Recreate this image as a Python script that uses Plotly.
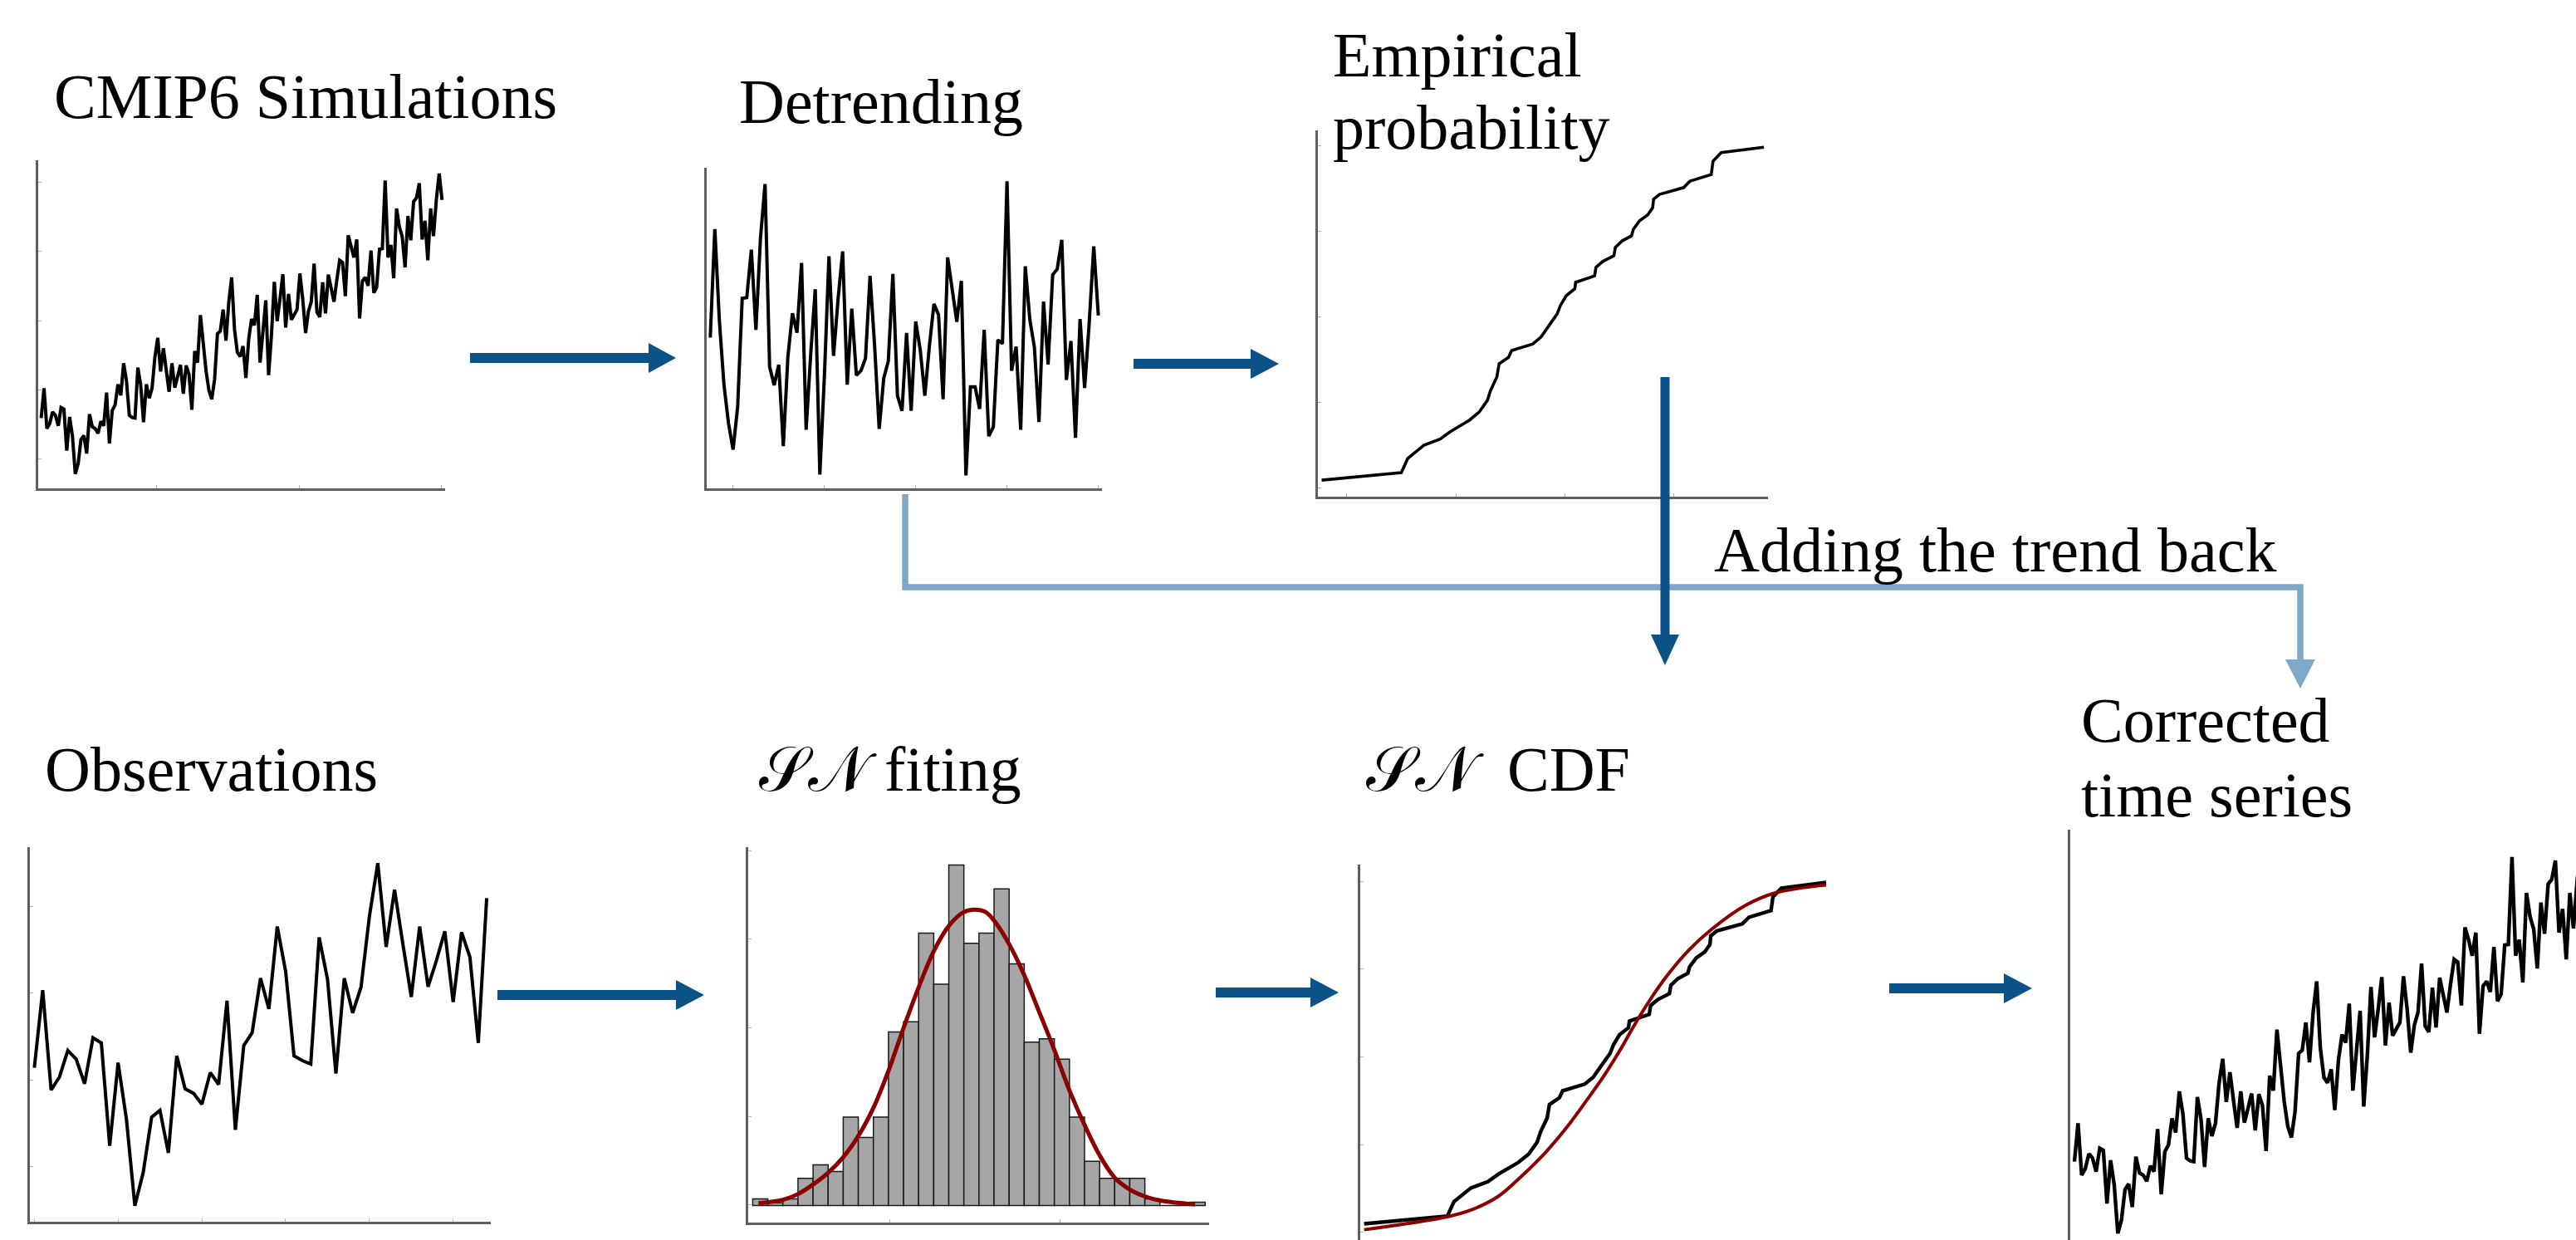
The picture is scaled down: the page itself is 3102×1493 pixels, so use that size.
import plotly.graph_objects as go

W, H = 3102, 1493

# ---------------- data ----------------
cmip6_values = [2.60, 3.68, 2.22, 2.40, 2.82, 2.70, 2.32, 2.98, 2.92, 1.42,
                2.64, 1.95, 0.58, 0.95, 1.82, 1.97, 1.32, 2.74, 2.28, 2.22,
                2.05, 2.48, 2.32, 3.52, 1.68, 2.88, 3.07, 3.82, 3.42, 4.58,
                3.94, 2.70, 2.62, 2.60, 4.42, 3.80, 2.45, 3.82, 3.32, 3.68,
                4.80, 5.50, 4.28, 5.12, 4.32, 3.55, 4.58, 3.70, 4.10, 4.52,
                3.48, 4.50, 4.18, 2.90, 5.02, 4.60, 6.32, 5.20, 4.30, 3.60,
                3.28, 4.00, 5.65, 5.74, 6.52, 5.40, 6.80, 7.68, 5.80, 4.97,
                4.82, 5.20, 4.05, 5.45, 6.18, 5.95, 7.05, 4.60, 5.80, 6.85,
                4.15, 5.60, 7.52, 6.10, 6.90, 7.80, 5.87, 7.08, 6.15, 6.32,
                6.52, 7.82, 6.90, 5.67, 6.45, 6.80, 8.18, 6.42, 6.25, 7.50,
                6.38, 7.78, 7.30, 6.80, 7.60, 8.30, 8.22, 7.00, 9.20, 8.85,
                8.40, 9.05, 6.20, 7.55, 7.68, 7.38, 8.65, 7.12, 7.32, 8.70,
                8.72, 11.18, 8.40, 8.85, 7.65, 10.17, 9.50, 9.15, 8.04, 9.90,
                9.02, 10.42, 10.55, 11.08, 9.05, 9.72, 8.30, 10.17, 9.17, 10.50,
                11.43, 10.48]

detrended_values = [5.80, 9.72, 6.40, 4.10, 2.70, 1.75, 3.30, 7.22, 7.25, 8.98,
                    6.08, 9.40, 11.35, 4.75, 4.08, 4.82, 1.88, 5.10, 6.68, 5.98,
                    8.50, 2.47, 5.20, 7.55, 0.85, 4.40, 8.74, 5.14, 7.20, 8.92,
                    4.10, 6.85, 4.44, 4.60, 5.05, 8.03, 5.50, 2.50, 4.33, 4.95,
                    8.10, 3.70, 3.15, 5.97, 3.15, 6.38, 5.35, 3.70, 5.50, 7.02,
                    6.63, 3.57, 8.70, 7.50, 6.37, 7.85, 0.82, 4.02, 4.02, 3.22,
                    6.08, 2.24, 2.57, 5.72, 5.58, 11.45, 4.60, 5.47, 2.47, 8.38,
                    6.45, 5.45, 2.75, 7.10, 4.83, 8.07, 8.28, 9.33, 4.27, 5.68,
                    2.18, 6.47, 3.98, 6.32, 9.10, 6.60]

obs_values = [4.37, 6.65, 3.72, 4.10, 4.88, 4.62, 3.90, 5.25, 5.10, 2.08,
              4.52, 2.85, 0.32, 1.30, 2.92, 3.12, 1.87, 4.72, 3.75, 3.62,
              3.30, 4.23, 3.88, 6.34, 2.55, 5.02, 5.40, 7.00, 6.10, 8.52,
              7.20, 4.72, 4.58, 4.48, 8.20, 6.97, 4.20, 7.00, 5.98, 6.74,
              8.82, 10.38, 7.92, 9.60, 8.00, 6.45, 8.52, 6.75, 7.52, 8.38,
              6.30, 8.35, 7.62, 5.10, 9.35]

hist_bins = list(range(30))
hist_counts = [1, 0.4, 1, 4, 6, 5, 13, 10, 13, 25.5,
               27, 40, 32.5, 50, 38.5, 40, 46.5, 35.5, 24, 24.5,
               21.5, 13, 6.5, 4, 4, 4, 1, 0, 0, 0.5]

pdf_x = [0.38, 2.0, 3.01, 4.0, 5.01, 6.0, 7.01, 8.0, 9.01, 10.0, 11.01, 12.0,
         13.01, 14.0, 14.72, 15.44, 16.0, 17.01, 18.0, 19.01, 20.0, 21.01,
         22.0, 23.01, 24.0, 25.01, 26.0, 27.01, 29.33]
pdf_y = [0.35, 0.85, 1.7, 3.1, 4.85, 7.1, 10.25, 14.35, 19.85, 26.1, 32.1, 37.35,
         41.1, 43.1, 43.45, 43.1, 41.85, 38.35, 33.85, 28.35, 22.85, 16.85,
         11.85, 7.35, 4.1, 2.35, 1.35, 0.75, 0.2]

ecdf_x = [0.009, 0.186, 0.200, 0.236, 0.272, 0.294, 0.337, 0.359, 0.377, 0.384,
          0.398, 0.403, 0.424, 0.431, 0.478, 0.496, 0.514, 0.532, 0.539, 0.552,
          0.571, 0.573, 0.615, 0.618, 0.633, 0.658, 0.661, 0.676, 0.697, 0.701,
          0.715, 0.733, 0.744, 0.746, 0.759, 0.813, 0.827, 0.874, 0.878, 0.896,
          0.991]
ecdf_p = [0.024, 0.046, 0.087, 0.126, 0.144, 0.165, 0.199, 0.223, 0.257, 0.286,
          0.325, 0.364, 0.383, 0.403, 0.422, 0.442, 0.476, 0.510, 0.534, 0.563,
          0.583, 0.602, 0.621, 0.646, 0.663, 0.680, 0.704, 0.723, 0.738, 0.757,
          0.782, 0.799, 0.820, 0.845, 0.859, 0.879, 0.898, 0.917, 0.956, 0.981,
          0.997]

sncdf_x = [0.009, 0.186, 0.236, 0.294, 0.344, 0.395, 0.438, 0.481, 0.517, 0.553,
           0.582, 0.618, 0.654, 0.697, 0.748, 0.820, 0.885, 0.991]
sncdf_p = [0.007, 0.044, 0.063, 0.102, 0.160, 0.228, 0.296, 0.374, 0.442, 0.519,
           0.587, 0.665, 0.733, 0.801, 0.864, 0.932, 0.968, 0.990]

corrected_values = list(cmip6_values)

titles = ["CMIP6 Simulations", "Detrending", "Empirical", "probability",
          "Adding the trend back", "Observations", "\U0001D4AE\U0001D4A9\u00a0fiting",
          "\U0001D4AE\U0001D4A9\u00a0\u00a0CDF", "Corrected", "time series"]

# ---------------- style / layout ----------------
BLUE = '#0a5288'
LIGHT = '#7fa8c8'
AXC = '#5f5f5f'
RED = '#8b0000'
FONT = 'Liberation Serif'
FS = 76
TICKC = '#b4b4b4'


def px(x):
    return x / W


def py(y):
    return 1 - y / H


fig = go.Figure()

# panel boxes in pixels: (x_left, x_right, y_top, y_bottom)
panels = [
    dict(box=(46, 536, 193, 588), xr=[-1.05, 142.08], yr=[0.06, 11.91], xt=(40.7, 50), yt=(1.12, 2.5), xl=True),
    dict(box=(851, 1327, 202, 588), xr=[-0.78, 85.8], yr=[0.35, 11.94], xt=(5, 20), yt=None, xl=True),
    dict(box=(1587, 2129, 157, 598), xr=[0.0007, 1.0], yr=[-0.0243, 1.046], xt=(0.307, 0.242), yt=(0, 0.25), xl=True),
    dict(box=(36, 591, 1020, 1471), xr=[-0.53, 54.49], yr=[-0.151, 10.85], xt=(0, 10), yt=(1.48, 2.54), xl=True),
    dict(box=(901, 1456, 1020, 1472), xr=[-0.30, 30.26], yr=[-2.49, 52.63], xt=(9.08, 11.3), yt=(0.1, 13), xl=True),
    dict(box=(1638, 2210, 1041, 1493), xr=[0.0008, 1.0105], yr=[-0.0223, 1.048], xt=None, yt=(0, 0.25), xl=False),
    dict(box=(2493, 3102, 999, 1493), xr=[-1.15, 138.7], yr=[0.393, 11.95], xt=None, yt=None, xl=False),
]

layout = dict(width=W, height=H, margin=dict(l=0, r=0, t=0, b=0),
              paper_bgcolor='white', plot_bgcolor='white', showlegend=False)

for k, p in enumerate(panels):
    n = '' if k == 0 else str(k + 1)
    x0, x1, yt, yb = p['box']
    xa = dict(domain=[px(x0), px(x1)], range=p['xr'], showgrid=False, zeroline=False,
              showticklabels=False, showline=p['xl'], linecolor=AXC, linewidth=2.5,
              anchor='y' + n, fixedrange=True)
    ya = dict(domain=[py(yb), py(yt)], range=p['yr'], showgrid=False, zeroline=False,
              showticklabels=False, showline=True, linecolor=AXC, linewidth=2.5,
              anchor='x' + n, fixedrange=True)
    if p['xt'] and p['xl']:
        xa.update(ticks='inside', tickmode='linear', tick0=p['xt'][0], dtick=p['xt'][1],
                  ticklen=4, tickwidth=1, tickcolor=TICKC)
    else:
        xa.update(ticks='')
    if p['yt']:
        ya.update(ticks='inside', tickmode='linear', tick0=p['yt'][0], dtick=p['yt'][1],
                  ticklen=4, tickwidth=1, tickcolor=TICKC)
    else:
        ya.update(ticks='')
    layout['xaxis' + n] = xa
    layout['yaxis' + n] = ya

line_k = dict(color='black', width=4)

# 1 CMIP6
fig.add_trace(go.Scatter(x=list(range(len(cmip6_values))), y=cmip6_values, mode='lines',
                         line=line_k, xaxis='x', yaxis='y'))
# 2 detrended
fig.add_trace(go.Scatter(x=list(range(len(detrended_values))), y=detrended_values, mode='lines',
                         line=line_k, xaxis='x2', yaxis='y2'))
# 3 empirical probability
fig.add_trace(go.Scatter(x=ecdf_x, y=ecdf_p, mode='lines', line=dict(color='black', width=3.6),
                         xaxis='x3', yaxis='y3'))
# 4 observations
fig.add_trace(go.Scatter(x=list(range(len(obs_values))), y=obs_values, mode='lines',
                         line=line_k, xaxis='x4', yaxis='y4'))
# 5 SN fitting
fig.add_trace(go.Bar(x=[b + 0.5 for b in hist_bins], y=hist_counts, width=1,
                     marker=dict(color='#a6a6a6', line=dict(color='#1a1a1a', width=1.5)),
                     xaxis='x5', yaxis='y5'))
fig.add_trace(go.Scatter(x=pdf_x, y=pdf_y, mode='lines', line=dict(color=RED, width=5, shape='spline'),
                         xaxis='x5', yaxis='y5'))
# 6 SN CDF
fig.add_trace(go.Scatter(x=ecdf_x, y=ecdf_p, mode='lines', line=dict(color='black', width=4.4),
                         xaxis='x6', yaxis='y6'))
fig.add_trace(go.Scatter(x=sncdf_x, y=sncdf_p, mode='lines', line=dict(color=RED, width=4, shape='spline'),
                         xaxis='x6', yaxis='y6'))
# 7 corrected
fig.add_trace(go.Scatter(x=list(range(len(corrected_values))), y=corrected_values, mode='lines',
                         line=dict(color='black', width=4.4), xaxis='x7', yaxis='y7'))

# ---------------- arrows ----------------
shapes = []


def pth(pts):
    s = 'M ' + ' L '.join(f'{px(x):.6f},{py(y):.6f}' for x, y in pts)
    return s


# light-blue "trend" connector
shapes.append(dict(type='path', xref='paper', yref='paper',
                   path=pth([(1090, 595), (1090, 707), (2770, 707), (2770, 797)]),
                   line=dict(color=LIGHT, width=7.5), fillcolor='rgba(0,0,0,0)'))
shapes.append(dict(type='path', xref='paper', yref='paper',
                   path=pth([(2752, 794), (2788, 794), (2770, 829)]) + ' Z',
                   line=dict(width=0), fillcolor=LIGHT))


def h_arrow(x0, x1, tip, yc, t=12, hh=18):
    pts = [(x0, yc - t / 2), (x1, yc - t / 2), (x1, yc - hh), (tip, yc), (x1, yc + hh),
           (x1, yc + t / 2), (x0, yc + t / 2)]
    return dict(type='path', xref='paper', yref='paper', path=pth(pts) + ' Z',
                line=dict(width=0), fillcolor=BLUE)


def v_arrow(xc, y0, y1, tip, t=11, hh=17):
    pts = [(xc - t / 2, y0), (xc - t / 2, y1), (xc - hh, y1), (xc, tip), (xc + hh, y1),
           (xc + t / 2, y1), (xc + t / 2, y0)]
    return dict(type='path', xref='paper', yref='paper', path=pth(pts) + ' Z',
                line=dict(width=0), fillcolor=BLUE)


shapes += [h_arrow(566, 781, 814, 431), h_arrow(1365, 1506, 1540, 438),
           h_arrow(599, 814, 848, 1198), h_arrow(1464, 1578, 1612, 1195),
           h_arrow(2275, 2413, 2447, 1190), v_arrow(2005, 454, 764, 801)]
layout['shapes'] = shapes

# ---------------- texts ----------------
pos = [(64, 142), (889, 148), (1604, 92), (1604, 179), (2063, 688), (53, 952),
       (913, 952), (1644, 952), (2505, 893), (2505, 983)]
ann = []
for txt, (x, base) in zip(titles, pos):
    ann.append(dict(text=txt, xref='paper', yref='paper', x=px(x), y=py(base + 1 + 0.216 * FS),
                    xanchor='left', yanchor='bottom', showarrow=False, borderpad=0,
                    font=dict(family=FONT, size=FS, color='black')))
layout['annotations'] = ann

fig.update_layout(**layout)
fig.write_html("out.html")
